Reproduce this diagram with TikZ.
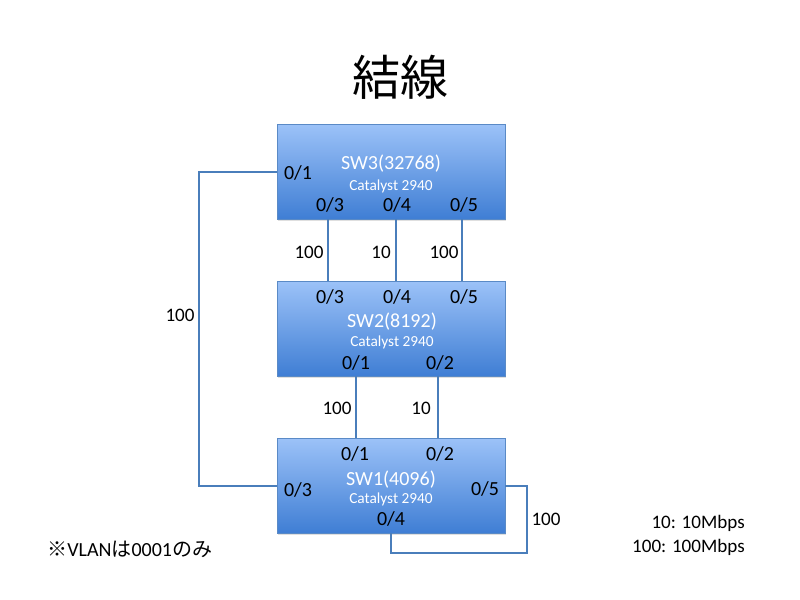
\documentclass[tikz,border=0pt]{standalone}
\usepackage{fontspec}
\setmainfont{Carlito}
\newfontfamily\cjk{Noto Sans CJK JP}
\usetikzlibrary{shadows}
\definecolor{boxtop}{HTML}{9CC2F8}
\definecolor{boxbot}{HTML}{3F7ED4}
\definecolor{boxline}{HTML}{5A8AC6}
\definecolor{wire}{HTML}{4A7EBB}
\tikzset{
  swbox/.style={draw=boxline, line width=0.6pt, top color=boxtop, bottom color=boxbot,
    minimum width=171pt, minimum height=71.25pt, inner sep=0pt,
    drop shadow={shadow xshift=1pt, shadow yshift=-1.5pt, opacity=0.25}},
  port/.style={font=\fontsize{15}{17}\selectfont, inner sep=0pt},
  swname/.style={font=\fontsize{15}{17}\selectfont, text=white, inner sep=0pt},
  model/.style={font=\fontsize{11.5}{13}\selectfont, text=white, inner sep=0pt},
  speed/.style={font=\fontsize{14.3}{16}\selectfont, inner sep=0pt},
  wire/.style={draw=wire, line width=1.6pt},
}
\begin{document}
\begin{tikzpicture}[x=0.75pt,y=-0.75pt]
\useasboundingbox (0,0) rectangle (800,600);
% title
\node[font=\cjk\fontsize{36}{42}\selectfont, inner sep=0pt] (title) at (400,77) {結線};
% switches
\node[swbox] (sw3) at (391,171.5) {};
\node[swbox] (sw2) at (391,328.5) {};
\node[swbox] (sw1) at (391,485.5) {};
% coordinates for wires
\coordinate (s3p3) at (328,219);
\coordinate (s3p4) at (396,219);
\coordinate (s3p5) at (462,219);
\coordinate (s2p3) at (328,281);
\coordinate (s2p4) at (396,281);
\coordinate (s2p5) at (462,281);
\coordinate (s2p1) at (356,376);
\coordinate (s2p2) at (438,376);
\coordinate (s1p1) at (356,438);
\coordinate (s1p2) at (438,438);
\coordinate (s3p1) at (277,172);
\coordinate (s1p3) at (277,486);
\coordinate (s1p5) at (505,486);
\coordinate (s1p4) at (391,533);
\draw[wire] (s3p3) -- (s2p3);
\draw[wire] (s3p4) -- (s2p4);
\draw[wire] (s3p5) -- (s2p5);
\draw[wire] (s2p1) -- (s1p1);
\draw[wire] (s2p2) -- (s1p2);
\draw[wire] (s3p1) -- (199,172) -- (199,486) -- (s1p3);
\draw[wire] (s1p5) -- (527,486) -- (527,553) -- (391,553) -- (s1p4);
% SW3 text
\node[swname] (n3) at (391,164) {SW3(32768)};
\node[model] (m3) at (391,186) {Catalyst 2940};
\node[port] (a31) at (298,173) {0/1};
\node[port] (a33) at (330,205) {0/3};
\node[port] (a34) at (397,205) {0/4};
\node[port] (a35) at (464,205) {0/5};
% SW2 text
\node[swname] (n2) at (392,322) {SW2(8192)};
\node[model] (m2) at (392,342) {Catalyst 2940};
\node[port] (a23) at (330,297) {0/3};
\node[port] (a24) at (397,297) {0/4};
\node[port] (a25) at (464,297) {0/5};
\node[port] (a21) at (356,363) {0/1};
\node[port] (a22) at (440,363) {0/2};
% SW1 text
\node[swname] (n1) at (391,480) {SW1(4096)};
\node[model] (m1) at (391,499) {Catalyst 2940};
\node[port] (a11) at (355,454) {0/1};
\node[port] (a12) at (440,454) {0/2};
\node[port] (a13) at (298,490) {0/3};
\node[port] (a15) at (485,489) {0/5};
\node[port] (a14) at (391,519) {0/4};
% link speeds
\node[speed] (l1) at (309,252) {100};
\node[speed] (l2) at (381,252) {10};
\node[speed] (l3) at (444,252) {100};
\node[speed] (l4) at (337,408) {100};
\node[speed] (l5) at (421,408) {10};
\node[speed] (l6) at (180,315) {100};
\node[speed] (l7) at (546,519) {100};
% notes
\node[font=\fontsize{15}{17}\selectfont, inner sep=0pt, anchor=west] (note) at (47,549) {{\cjk ※}VLAN{\cjk は}0001{\cjk のみ}};
\node[speed, anchor=east] (leg1) at (745,523) {10: 10Mbps};
\node[speed, anchor=east] (leg2) at (745,547) {100: 100Mbps};
\end{tikzpicture}
\end{document}
